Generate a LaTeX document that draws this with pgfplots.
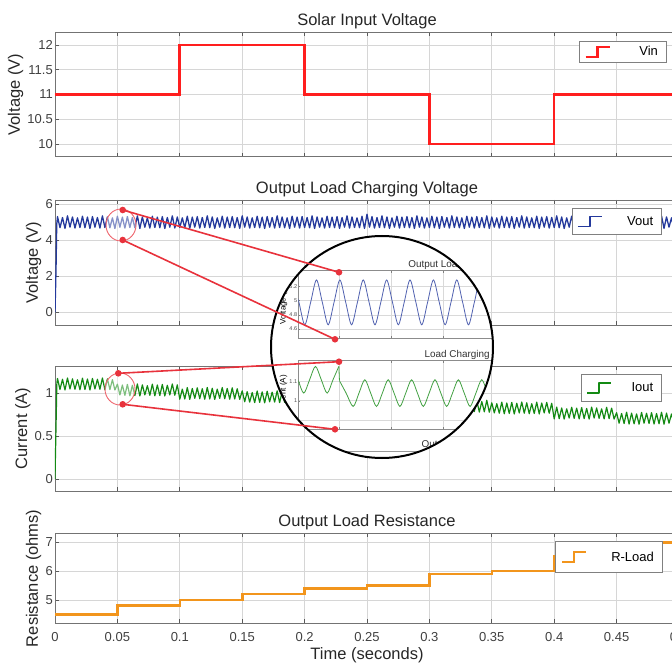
\documentclass[border=0pt]{standalone}
\usepackage{fontspec}
\setmainfont{Liberation Sans}
\usepackage{pgfplots}
\pgfplotsset{compat=1.18}
\definecolor{vinred}{HTML}{FF1E1E}
\definecolor{voutblue}{HTML}{24399C}
\definecolor{ioutgreen}{HTML}{138A13}
\definecolor{rload}{HTML}{F2951C}
\definecolor{callout}{HTML}{E8323C}

% one panel = 624pt wide, t from 0 to 0.5 s (image px = pt)
\pgfplotsset{
  panel/.style={
    scale only axis, width=624pt,
    xmin=0, xmax=0.5,
    xtick={0,0.05,0.1,0.15,0.2,0.25,0.3,0.35,0.4,0.45,0.5},
    xticklabels={},
    grid=major,
    major grid style={black!16, line width=0.7pt},
    tick align=inside, major tick length=4pt,
    axis line style={black!55, line width=0.8pt},
    tick style={black!65, line width=0.7pt},
    /pgf/number format/assume math mode=true,
    ticklabel style={font=\fontsize{13}{15}\selectfont, text=black!75, inner sep=2pt},
    xticklabel style={yshift=-6.5pt},
    label style={font=\fontsize{16.5}{19}\selectfont, text=black!85},
    ylabel style={inner sep=2pt},
    xlabel style={yshift=-1pt},
    every axis title/.style={at={(0.5,1)}, anchor=south, yshift=2pt, inner sep=1pt,
      font=\fontsize{16.5}{19}\selectfont, text=black!85},
    legend image code/.code={\draw[##1] (0pt,-5pt) -- (12pt,-5pt) -- (12pt,5pt) -- (24pt,5pt);},
    legend cell align=right,
  },
  mleg/.style n args={4}{legend style={at={(#1,#2)}, anchor=north east,
    draw=black!50, line width=0.8pt, fill=white, inner xsep=5pt, inner ysep=0pt,
    font=\fontsize{13}{15}\selectfont,
    nodes={text width=#3pt, align=right, minimum height=#4pt, inner xsep=3.4pt, inner ysep=0pt}}},
  inset/.style={
    scale only axis, width=353.4pt,
    xmin=-0.78, xmax=6.02,
    xtick={0,1,2,3,4,5,6}, xticklabels={},
    grid=major,
    major grid style={black!15, line width=0.5pt},
    axis line style={black!45, line width=0.6pt},
    tick align=inside, major tick length=2pt,
    /pgf/number format/assume math mode=true,
    ticklabel style={font=\fontsize{5.5}{6}\selectfont, text=black!70, inner sep=1pt},
    ylabel style={font=\fontsize{8}{9}\selectfont, inner sep=1pt},
    every axis title/.style={at={(0.5,1)}, anchor=south, inner sep=1pt,
      font=\fontsize{9.9}{11}\selectfont, text=black!80},
  },
}

\begin{document}
\begin{tikzpicture}

% ---- Solar input voltage
\begin{axis}[panel, at={(55pt,-32.3pt)}, anchor=north west, height=124.4pt,
  ymin=9.74, ymax=12.26, ytick={10,10.5,11,11.5,12},
  ylabel={Voltage (V)}, title={Solar Input Voltage},
  mleg={0.9803}{0.9325}{43.6}{21.6}]
\addplot[const plot, vinred, line width=2.6pt] coordinates {
  (0,11) (0.1,12) (0.2,11) (0.3,10) (0.4,11) (0.5,11)};
\addlegendentry{Vin}
\end{axis}

% ---- Output voltage
\begin{axis}[panel, at={(55pt,-200pt)}, anchor=north west, height=125pt,
  ymin=-0.7, ymax=6.24, ytick={0,2,4,6},
  ylabel={Voltage (V)}, title={Output Load Charging Voltage},
  mleg={0.9728}{0.936}{47.2}{26}]
\addplot[voutblue, line width=1.3pt, line join=round] coordinates {
(0,0)(0.0008,2.3)(0.0014,4.9)(0.002,5.32)(0.004,4.70)(0.006,5.27)(0.008,4.66)(0.010,5.36)(0.012,4.73)(0.014,5.30)(0.016,4.68)(0.018,5.25)(0.020,4.71)(0.022,5.34)(0.024,4.70)(0.026,5.29)(0.028,4.66)(0.030,5.32)(0.032,4.73)(0.034,5.27)(0.036,4.68)(0.038,5.36)(0.040,4.71)(0.042,5.30)(0.044,4.70)(0.046,5.25)(0.048,4.66)(0.050,5.34)(0.052,4.73)(0.054,5.29)(0.056,4.68)(0.058,5.32)(0.060,4.71)(0.062,5.27)(0.064,4.70)(0.066,5.36)(0.068,4.66)(0.070,5.30)(0.072,4.73)(0.074,5.25)(0.076,4.68)(0.078,5.34)(0.080,4.71)(0.082,5.29)(0.084,4.70)(0.086,5.32)(0.088,4.66)(0.090,5.27)(0.092,4.73)(0.094,5.36)(0.096,4.68)(0.098,5.30)(0.100,4.71)
(0.102,5.25)(0.104,4.70)(0.106,5.34)(0.108,4.66)(0.110,5.29)(0.112,4.73)(0.114,5.32)(0.116,4.68)(0.118,5.27)(0.120,4.71)(0.122,5.36)(0.124,4.70)(0.126,5.30)(0.128,4.66)(0.130,5.25)(0.132,4.73)(0.134,5.34)(0.136,4.68)(0.138,5.29)(0.140,4.71)(0.142,5.32)(0.144,4.70)(0.146,5.27)(0.148,4.66)(0.150,5.36)(0.152,4.73)(0.154,5.30)(0.156,4.68)(0.158,5.25)(0.160,4.71)(0.162,5.34)(0.164,4.70)(0.166,5.29)(0.168,4.66)(0.170,5.32)(0.172,4.73)(0.174,5.27)(0.176,4.68)(0.178,5.36)(0.180,4.71)(0.182,5.30)(0.184,4.70)(0.186,5.25)(0.188,4.66)(0.190,5.34)(0.192,4.73)(0.194,5.29)(0.196,4.68)(0.198,5.32)(0.200,4.71)
(0.202,5.27)(0.204,4.70)(0.206,5.36)(0.208,4.66)(0.210,5.30)(0.212,4.73)(0.214,5.25)(0.216,4.68)(0.218,5.34)(0.220,4.71)(0.222,5.29)(0.224,4.70)(0.226,5.32)(0.228,4.66)(0.230,5.27)(0.232,4.73)(0.234,5.36)(0.236,4.68)(0.238,5.30)(0.240,4.71)(0.242,5.25)(0.244,4.70)(0.246,5.34)(0.248,4.66)(0.250,5.45)(0.252,4.73)(0.254,5.32)(0.256,4.68)(0.258,5.27)(0.260,4.71)(0.262,5.36)(0.264,4.70)(0.266,5.30)(0.268,4.66)(0.270,5.25)(0.272,4.73)(0.274,5.34)(0.276,4.68)(0.278,5.29)(0.280,4.71)(0.282,5.32)(0.284,4.70)(0.286,5.27)(0.288,4.66)(0.290,5.36)(0.292,4.73)(0.294,5.30)(0.296,4.68)(0.298,5.25)(0.300,4.71)
(0.302,5.34)(0.304,4.70)(0.306,5.29)(0.308,4.66)(0.310,5.32)(0.312,4.73)(0.314,5.27)(0.316,4.68)(0.318,5.36)(0.320,4.71)(0.322,5.30)(0.324,4.70)(0.326,5.25)(0.328,4.66)(0.330,5.34)(0.332,4.73)(0.334,5.29)(0.336,4.68)(0.338,5.32)(0.340,4.71)(0.342,5.27)(0.344,4.70)(0.346,5.36)(0.348,4.66)(0.350,5.30)(0.352,4.73)(0.354,5.25)(0.356,4.68)(0.358,5.34)(0.360,4.71)(0.362,5.29)(0.364,4.70)(0.366,5.32)(0.368,4.66)(0.370,5.27)(0.372,4.73)(0.374,5.36)(0.376,4.68)(0.378,5.30)(0.380,4.71)(0.382,5.25)(0.384,4.70)(0.386,5.34)(0.388,4.66)(0.390,5.29)(0.392,4.73)(0.394,5.32)(0.396,4.68)(0.398,5.27)(0.400,4.71)
(0.402,5.36)(0.404,4.70)(0.406,5.30)(0.408,4.66)(0.410,5.25)(0.412,4.73)(0.414,5.34)(0.416,4.68)(0.418,5.29)(0.420,4.71)(0.422,5.32)(0.424,4.70)(0.426,5.27)(0.428,4.66)(0.430,5.36)(0.432,4.73)(0.434,5.30)(0.436,4.68)(0.438,5.25)(0.440,4.71)(0.442,5.34)(0.444,4.70)(0.446,5.29)(0.448,4.66)(0.450,5.32)(0.452,4.73)(0.454,5.27)(0.456,4.68)(0.458,5.36)(0.460,4.71)(0.462,5.30)(0.464,4.70)(0.466,5.25)(0.468,4.66)(0.470,5.34)(0.472,4.73)(0.474,5.29)(0.476,4.68)(0.478,5.32)(0.480,4.71)(0.482,5.27)(0.484,4.70)(0.486,5.36)(0.488,4.66)(0.490,5.30)(0.492,4.73)(0.494,5.25)(0.496,4.68)(0.498,5.34)(0.500,4.71)};
\addlegendentry{Vout}
\end{axis}

% ---- Output current
\begin{axis}[panel, at={(55pt,-366pt)}, anchor=north west, height=125pt,
  ymin=-0.14, ymax=1.32, ytick={0,0.5,1},
  ylabel={Current (A)},
  mleg={0.9728}{0.936}{38.2}{27}]
\addplot[ioutgreen, line width=1.2pt, line join=round] coordinates {
(0,0)(0.0008,0.6)(0.0015,1.12)(0.002,1.175)(0.004,1.045)(0.006,1.165)(0.008,1.04)(0.010,1.18)(0.012,1.052)(0.014,1.17)(0.016,1.048)(0.018,1.16)(0.020,1.042)(0.022,1.178)(0.024,1.045)(0.026,1.168)(0.028,1.04)(0.030,1.175)(0.032,1.052)(0.034,1.165)(0.036,1.048)(0.038,1.18)(0.040,1.042)(0.042,1.17)(0.044,1.045)(0.046,1.16)(0.048,1.04)
(0.050,1.108)(0.052,0.982)(0.054,1.098)(0.056,0.978)(0.058,1.105)(0.060,0.972)(0.062,1.095)(0.064,0.975)(0.066,1.11)(0.068,0.97)(0.070,1.10)(0.072,0.982)(0.074,1.09)(0.076,0.978)(0.078,1.108)(0.080,0.972)(0.082,1.098)(0.084,0.975)(0.086,1.105)(0.088,0.97)(0.090,1.095)(0.092,0.982)(0.094,1.11)(0.096,0.978)(0.098,1.10)
(0.100,0.932)(0.102,1.05)(0.104,0.935)(0.106,1.068)(0.108,0.93)(0.110,1.058)(0.112,0.942)(0.114,1.065)(0.116,0.938)(0.118,1.055)(0.120,0.932)(0.122,1.07)(0.124,0.935)(0.126,1.06)(0.128,0.93)(0.130,1.05)(0.132,0.942)(0.134,1.068)(0.136,0.938)(0.138,1.058)(0.140,0.932)(0.142,1.065)(0.144,0.935)(0.146,1.055)(0.148,0.93)
(0.150,1.03)(0.152,0.902)(0.154,1.02)(0.156,0.898)(0.158,1.01)(0.160,0.892)(0.162,1.028)(0.164,0.895)(0.166,1.018)(0.168,0.89)(0.170,1.025)(0.172,0.902)(0.174,1.015)(0.176,0.898)(0.178,1.03)(0.180,0.892)(0.182,1.02)(0.184,0.895)(0.186,1.01)(0.188,0.89)(0.190,1.028)(0.192,0.902)(0.194,1.018)(0.196,0.898)(0.198,1.025)
(0.200,0.857)(0.202,0.98)(0.204,0.86)(0.206,0.995)(0.208,0.855)(0.210,0.985)(0.212,0.867)(0.214,0.975)(0.216,0.863)(0.218,0.993)(0.220,0.857)(0.222,0.983)(0.224,0.86)(0.226,0.99)(0.228,0.855)(0.230,0.98)(0.232,0.867)(0.234,0.995)(0.236,0.863)(0.238,0.985)(0.240,0.857)(0.242,0.975)(0.244,0.86)(0.246,0.993)(0.248,0.855)
(0.250,0.963)(0.252,0.847)(0.254,0.97)(0.256,0.843)(0.258,0.96)(0.260,0.837)(0.262,0.975)(0.264,0.84)(0.266,0.965)(0.268,0.835)(0.270,0.955)(0.272,0.847)(0.274,0.973)(0.276,0.843)(0.278,0.963)(0.280,0.837)(0.282,0.97)(0.284,0.84)(0.286,0.96)(0.288,0.835)(0.290,0.975)(0.292,0.847)(0.294,0.965)(0.296,0.843)(0.298,0.955)
(0.300,0.782)(0.302,0.918)(0.304,0.785)(0.306,0.908)(0.308,0.78)(0.310,0.915)(0.312,0.792)(0.314,0.905)(0.316,0.788)(0.318,0.92)(0.320,0.782)(0.322,0.91)(0.324,0.785)(0.326,0.90)(0.328,0.78)(0.330,0.918)(0.332,0.792)(0.334,0.908)(0.336,0.788)(0.338,0.915)(0.340,0.782)(0.342,0.905)(0.344,0.785)(0.346,0.92)(0.348,0.78)
(0.350,0.89)(0.352,0.772)(0.354,0.88)(0.356,0.768)(0.358,0.898)(0.360,0.762)(0.362,0.888)(0.364,0.765)(0.366,0.895)(0.368,0.76)(0.370,0.885)(0.372,0.772)(0.374,0.90)(0.376,0.768)(0.378,0.89)(0.380,0.762)(0.382,0.88)(0.384,0.765)(0.386,0.898)(0.388,0.76)(0.390,0.888)(0.392,0.772)(0.394,0.895)(0.396,0.768)(0.398,0.885)
(0.400,0.702)(0.402,0.84)(0.404,0.705)(0.406,0.83)(0.408,0.70)(0.410,0.82)(0.412,0.712)(0.414,0.838)(0.416,0.708)(0.418,0.828)(0.420,0.702)(0.422,0.835)(0.424,0.705)(0.426,0.825)(0.428,0.70)(0.430,0.84)(0.432,0.712)(0.434,0.83)(0.436,0.708)(0.438,0.82)(0.440,0.702)(0.442,0.838)(0.444,0.705)(0.446,0.828)(0.448,0.70)
(0.450,0.775)(0.452,0.652)(0.454,0.765)(0.456,0.648)(0.458,0.78)(0.460,0.642)(0.462,0.77)(0.464,0.645)(0.466,0.76)(0.468,0.64)(0.470,0.778)(0.472,0.652)(0.474,0.768)(0.476,0.648)(0.478,0.775)(0.480,0.642)(0.482,0.765)(0.484,0.645)(0.486,0.78)(0.488,0.64)(0.490,0.77)(0.492,0.652)(0.494,0.76)(0.496,0.648)(0.498,0.778)(0.500,0.642)};
\addlegendentry{Iout}
\end{axis}

% ---- Load resistance
\begin{axis}[panel, at={(55pt,-533.3pt)}, anchor=north west, height=90pt,
  ymin=4.19, ymax=7.31, ytick={5,6,7},
  xticklabels={0,0.05,0.1,0.15,0.2,0.25,0.3,0.35,0.4,0.45,0.5},
  ylabel={Resistance (ohms)}, xlabel={Time (seconds)},
  title={Output Load Resistance},
  mleg={0.9739}{0.9144}{63.2}{31.3}]
\addplot[const plot, rload, line width=2.6pt] coordinates {
  (0,4.5) (0.05,4.8) (0.1,5.0) (0.15,5.2) (0.2,5.4) (0.25,5.5)
  (0.3,5.9) (0.35,6.0) (0.4,6.5) (0.45,7.0) (0.5,7.0)};
\addlegendentry{R-Load}
\end{axis}

% ---- zoom call-outs
\draw[callout!75, line width=0.9pt, fill=white, fill opacity=0.45] (121pt,-225pt) ellipse (15pt and 16pt);
\draw[callout!75, line width=0.9pt, fill=white, fill opacity=0.45] (120pt,-389pt) ellipse (15pt and 16pt);
\fill[white] (382pt,-347pt) circle (111pt);
\begin{scope}
\clip (382pt,-347pt) circle (111pt);
\begin{axis}[inset, at={(298.3pt,-270.7pt)}, anchor=north west, height=67.6pt,
  ymin=4.47, ymax=5.42, ytick={4.6,4.8,5,5.2},
  ylabel={Voltage (V)}, title={Output Load Charging Voltage}]
\addplot[voutblue!80, line width=0.8pt, smooth] coordinates {
(-0.88,5.29)(-0.7675,4.975)(-0.655,4.66)(-0.5425,4.975)(-0.43,5.29)(-0.3175,4.975)(-0.205,4.66)(-0.0925,4.975)
(0.02,5.29)(0.1325,4.975)(0.245,4.66)(0.3575,4.975)(0.47,5.29)(0.5825,4.975)(0.695,4.66)(0.8075,4.975)
(0.92,5.29)(1.0325,4.975)(1.145,4.66)(1.2575,4.975)(1.37,5.29)(1.4825,4.975)(1.595,4.66)(1.7075,4.975)
(1.82,5.29)(1.9325,4.975)(2.045,4.66)(2.1575,4.975)(2.27,5.29)(2.3825,4.975)(2.495,4.66)(2.6075,4.975)
(2.72,5.29)(2.8325,4.975)(2.945,4.66)(3.0575,4.975)(3.17,5.29)};
\end{axis}
\begin{axis}[inset, at={(298.3pt,-360.7pt)}, anchor=north west, height=68.6pt,
  ymin=0.85, ymax=1.21, ytick={0.9,1,1.1},
  ylabel={Current (A)}, title={Load Charging Current}]
\addplot[ioutgreen!80, line width=0.8pt, smooth] coordinates {
(-0.9,1.18)(-0.7875,1.11)(-0.675,1.04)(-0.5625,1.11)(-0.45,1.18)(-0.3375,1.11)(-0.225,1.04)(-0.1125,1.11)(0,1.18)};
\addplot[ioutgreen!80, line width=0.8pt] coordinates {(0,1.18)(0.012,1.105)};
\addplot[ioutgreen!80, line width=0.8pt, smooth] coordinates {
(0.012,1.105)(0.14,1.04)(0.275,0.97)(0.3875,1.04)(0.5,1.11)(0.6125,1.04)(0.725,0.97)(0.8375,1.04)
(0.95,1.11)(1.0625,1.04)(1.175,0.97)(1.2875,1.04)(1.4,1.11)(1.5125,1.04)(1.625,0.97)(1.7375,1.04)
(1.85,1.11)(1.9625,1.04)(2.075,0.97)(2.1875,1.04)(2.3,1.11)(2.4125,1.04)(2.525,0.97)(2.6375,1.04)
(2.75,1.11)(2.8625,1.04)(2.975,0.97)(3.0875,1.04)(3.2,1.11)};
\end{axis}
\node[font=\fontsize{9.9}{11}\selectfont, text=black!80] at (474.8pt,-445pt) {Output Load Resistance};
\draw[black!40, line width=0.6pt] (298.3pt,-451pt) -- (652pt,-451pt);
\end{scope}
\draw[black, line width=2pt] (382pt,-347pt) circle (111pt);

\draw[callout, line width=1.6pt] (122.7pt,-210pt) -- (339pt,-272.3pt);
\draw[callout, line width=1.6pt] (122.7pt,-240pt) -- (335pt,-339.3pt);
\draw[callout, line width=1.6pt] (118.3pt,-373.3pt) -- (339pt,-361.7pt);
\draw[callout, line width=1.6pt] (122.7pt,-404.3pt) -- (335pt,-429.3pt);
\foreach \p in {(122.7pt,-210pt),(339pt,-272.3pt),(122.7pt,-240pt),(335pt,-339.3pt),
                (118.3pt,-373.3pt),(339pt,-361.7pt),(122.7pt,-404.3pt),(335pt,-429.3pt)}
  \fill[callout] \p circle (3.3pt);

\pgfresetboundingbox
\useasboundingbox (0pt,0pt) rectangle (672pt,-663pt);
\end{tikzpicture}
\end{document}
